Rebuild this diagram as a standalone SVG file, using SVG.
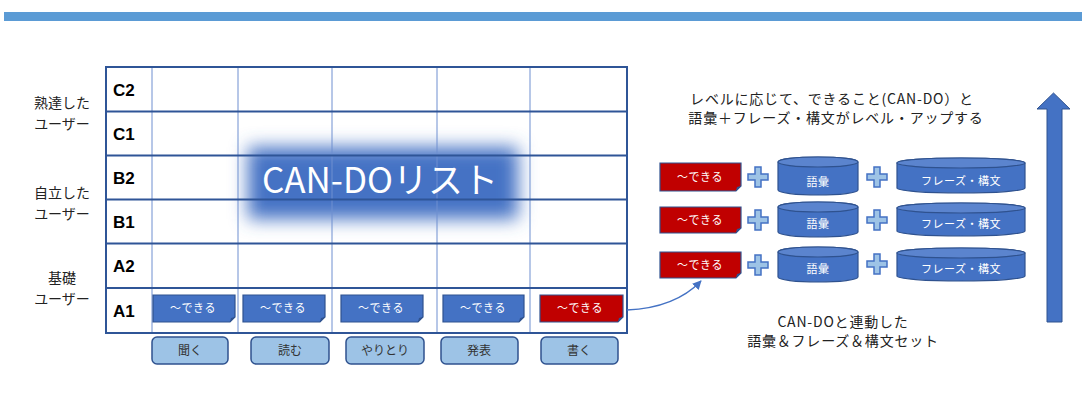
<svg xmlns="http://www.w3.org/2000/svg" width="1082" height="398" viewBox="0 0 1082 398">
<style>
text{font-family:"Noto Sans CJK JP","Liberation Sans",sans-serif;}
.lvl{font-family:"Liberation Sans",Arial,sans-serif;font-weight:bold;font-size:17px;fill:#000;}
.side{font-size:14px;fill:#222;text-anchor:middle;}
.cando{fill:#4472C4;stroke:#2F528F;stroke-width:1.2;}
.red{fill:#C00000;stroke:#2F528F;stroke-width:1.2;}
.fold{fill:#2F528F;}
.bt{font-size:11px;fill:#fff;text-anchor:middle;letter-spacing:0.5px;}
.skill{fill:#9DC3E6;stroke:#2F528F;stroke-width:1.5;}
.st{font-size:12px;fill:#333;text-anchor:middle;}
.cyl{fill:#4472C4;stroke:#2F528F;stroke-width:1.2;}
.plus{fill:#9DC3E6;stroke:#4472C4;stroke-width:1.5;}
.note{font-size:14px;fill:#222;text-anchor:middle;letter-spacing:0.8px;}
.row{stroke:#2F5597;stroke-width:2;}
.col{stroke:#6F8FD0;stroke-width:1;}
</style>
<defs>
<filter id="blur" x="-30%" y="-60%" width="160%" height="220%"><feGaussianBlur stdDeviation="9"/></filter>
<marker id="ah" viewBox="0 0 10 10" refX="9" refY="5" markerWidth="9" markerHeight="9" orient="auto" markerUnits="userSpaceOnUse"><path d="M0,0 L10,5 L0,10 z" fill="#4472C4"/></marker>
</defs>
<rect x="4" y="12" width="1078" height="9" fill="#5B9BD5"/>

<g id="table">
<rect x="106" y="67" width="521" height="266" fill="#fff"/>
<g id="cando-glow"><rect x="248" y="147" width="270" height="72" fill="#4472C4" filter="url(#blur)"/></g>
<line class="col" x1="238" y1="67" x2="238" y2="333"/>
<line class="col" x1="332" y1="67" x2="332" y2="333"/>
<line class="col" x1="437" y1="67" x2="437" y2="333"/>
<line class="col" x1="530" y1="67" x2="530" y2="333"/>
<line class="col" x1="152" y1="67" x2="152" y2="333"/>
<line class="row" x1="106" y1="111.5" x2="627" y2="111.5"/>
<line class="row" x1="106" y1="155.5" x2="627" y2="155.5"/>
<line class="row" x1="106" y1="199.5" x2="627" y2="199.5"/>
<line class="row" x1="106" y1="243.5" x2="627" y2="243.5"/>
<line class="row" x1="106" y1="288" x2="627" y2="288"/>
<rect x="106" y="67" width="521" height="266" fill="none" stroke="#2F5597" stroke-width="2"/>
<text class="lvl" x="113" y="96">C2</text>
<text class="lvl" x="113" y="140">C1</text>
<text class="lvl" x="113" y="184">B2</text>
<text class="lvl" x="113" y="228">B1</text>
<text class="lvl" x="113" y="272">A2</text>
<text class="lvl" x="113" y="317">A1</text>
<text x="380" y="193" font-family="'Noto Sans CJK JP',sans-serif" font-size="35" fill="#fff" text-anchor="middle">CAN-DOリスト</text>
</g>

<g id="side-labels">
<text class="side" x="62" y="108">熟達した</text>
<text class="side" x="62" y="129">ユーザー</text>
<text class="side" x="62" y="198">自立した</text>
<text class="side" x="62" y="219">ユーザー</text>
<text class="side" x="62" y="283">基礎</text>
<text class="side" x="62" y="304">ユーザー</text>
</g>

<g id="a1-boxes">
<g id="b1"><path class="cando" d="M153,295 H235 V317 L230,322 H153 Z"/><path class="fold" d="M235,317 L230,322 L231,318 Z"/><text class="bt" x="193" y="312">〜できる</text></g>
<g id="b2"><path class="cando" d="M243,295 H325 V317 L320,322 H243 Z"/><path class="fold" d="M325,317 L320,322 L321,318 Z"/><text class="bt" x="283" y="312">〜できる</text></g>
<g id="b3"><path class="cando" d="M341,295 H423 V317 L418,322 H341 Z"/><path class="fold" d="M423,317 L418,322 L419,318 Z"/><text class="bt" x="381" y="312">〜できる</text></g>
<g id="b4"><path class="cando" d="M443,295 H524 V317 L519,322 H443 Z"/><path class="fold" d="M524,317 L519,322 L520,318 Z"/><text class="bt" x="483" y="312">〜できる</text></g>
<g id="b5"><path class="red" d="M540,295 H623 V317 L618,322 H540 Z"/><path class="fold" d="M623,317 L618,322 L619,318 Z"/><text class="bt" x="580" y="312">〜できる</text></g>
</g>

<g id="skills">
<g id="s1"><rect class="skill" x="152" y="337" width="76" height="27" rx="5"/><text class="st" x="190" y="355">聞く</text></g>
<g id="s2"><rect class="skill" x="251" y="337" width="78" height="27" rx="5"/><text class="st" x="290" y="355">読む</text></g>
<g id="s3"><rect class="skill" x="346" y="337" width="78" height="27" rx="5"/><text class="st" x="385" y="355">やりとり</text></g>
<g id="s4"><rect class="skill" x="441" y="337" width="77" height="27" rx="5"/><text class="st" x="479" y="355">発表</text></g>
<g id="s5"><rect class="skill" x="541" y="337" width="77" height="27" rx="5"/><text class="st" x="579" y="355">書く</text></g>
</g>

<g id="header-note">
<text class="note" x="832" y="104">レベルに応じて、できること(CAN-DO）と</text>
<text class="note" x="836" y="123">語彙＋フレーズ・構文がレベル・アップする</text>
</g>

<g id="set-row1">
<path class="red" d="M660,163 H741 V186 L736,191 H660 Z"/><path class="fold" d="M741,186 L736,191 L737,187 Z"/><text class="bt" x="700" y="181">〜できる</text>
<path class="plus" d="M755,167 h6 v7 h7 v6 h-7 v7 h-6 v-7 h-7 v-6 h7 z"/>
<path class="cyl" d="M778,162 V190 A40,5 0 0 0 858,190 V162 A40,5 0 0 0 778,162 Z"/><ellipse cx="818" cy="162" rx="40" ry="5" fill="#5B84CE" stroke="#2F528F" stroke-width="1.2"/><text class="bt" x="818" y="186" font-size="12">語彙</text>
<path class="plus" d="M874,167 h6 v7 h7 v6 h-7 v7 h-6 v-7 h-7 v-6 h7 z"/>
<path class="cyl" d="M897,163 V188 A64,5 0 0 0 1025,188 V163 A64,5 0 0 0 897,163 Z"/><ellipse cx="961" cy="163" rx="64" ry="5" fill="#5B84CE" stroke="#2F528F" stroke-width="1.2"/><text class="bt" x="961" y="185" font-size="12">フレーズ・構文</text>
</g>
<g id="set-row2">
<path class="red" d="M660,207 H741 V228 L736,233 H660 Z"/><path class="fold" d="M741,228 L736,233 L737,229 Z"/><text class="bt" x="700" y="224">〜できる</text>
<path class="plus" d="M755,210 h6 v7 h7 v6 h-7 v7 h-6 v-7 h-7 v-6 h7 z"/>
<path class="cyl" d="M778,207 V232 A40,5 0 0 0 858,232 V207 A40,5 0 0 0 778,207 Z"/><ellipse cx="818" cy="207" rx="40" ry="5" fill="#5B84CE" stroke="#2F528F" stroke-width="1.2"/><text class="bt" x="818" y="228" font-size="12">語彙</text>
<path class="plus" d="M874,210 h6 v7 h7 v6 h-7 v7 h-6 v-7 h-7 v-6 h7 z"/>
<path class="cyl" d="M897,208 V231 A64,5 0 0 0 1025,231 V208 A64,5 0 0 0 897,208 Z"/><ellipse cx="961" cy="208" rx="64" ry="5" fill="#5B84CE" stroke="#2F528F" stroke-width="1.2"/><text class="bt" x="961" y="228" font-size="12">フレーズ・構文</text>
</g>
<g id="set-row3">
<path class="red" d="M660,252 H741 V273 L736,278 H660 Z"/><path class="fold" d="M741,273 L736,278 L737,274 Z"/><text class="bt" x="700" y="269">〜できる</text>
<path class="plus" d="M755,255 h6 v7 h7 v6 h-7 v7 h-6 v-7 h-7 v-6 h7 z"/>
<path class="cyl" d="M778,252 V277 A40,5 0 0 0 858,277 V252 A40,5 0 0 0 778,252 Z"/><ellipse cx="818" cy="252" rx="40" ry="5" fill="#5B84CE" stroke="#2F528F" stroke-width="1.2"/><text class="bt" x="818" y="273" font-size="12">語彙</text>
<path class="plus" d="M874,254 h6 v7 h7 v6 h-7 v7 h-6 v-7 h-7 v-6 h7 z"/>
<path class="cyl" d="M897,253 V276 A64,5 0 0 0 1025,276 V253 A64,5 0 0 0 897,253 Z"/><ellipse cx="961" cy="253" rx="64" ry="5" fill="#5B84CE" stroke="#2F528F" stroke-width="1.2"/><text class="bt" x="961" y="273" font-size="12">フレーズ・構文</text>
</g>

<g id="footer-note">
<text class="note" x="843" y="327" font-size="13" letter-spacing="0.5">CAN-DOと連動した</text>
<text class="note" x="843" y="346" font-size="13" letter-spacing="0.5">語彙＆フレーズ＆構文セット</text>
</g>

<g id="level-arrow"><path d="M1047,322 V109 H1037 L1053.5,93 L1070,109 H1062 V322 Z" fill="#4472C4" stroke="#2F528F" stroke-width="1"/></g>

<g id="connectors">
<path d="M627,310 Q675,308 701,281" fill="none" stroke="#4472C4" stroke-width="1.3" marker-end="url(#ah)"/>
</g>
</svg>
